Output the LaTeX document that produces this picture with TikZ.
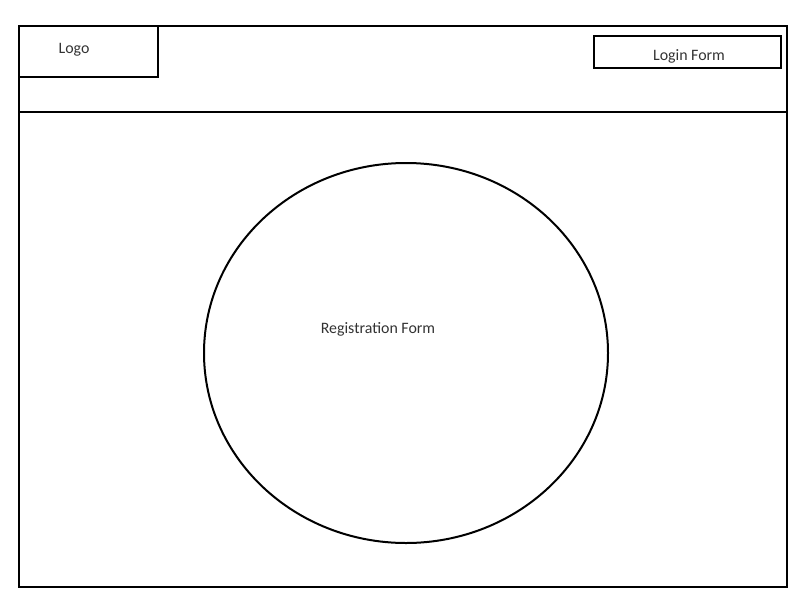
\documentclass[tikz,border=0pt]{standalone}
\usepackage{fontspec}
\setmainfont{Carlito}
\usetikzlibrary{shapes.geometric}
\definecolor{txt}{HTML}{333333}
\begin{document}
\begin{tikzpicture}[x=1pt,y=-1pt,
  frame/.style={draw=black,line width=2pt},
  label/.style={text=txt,font=\fontsize{15.9}{18}\selectfont,inner sep=0pt}]
\useasboundingbox (0,0) rectangle (800,600);
% page frame and header band
\draw[frame] (19,26) rectangle (787,587);
\draw[frame] (19,112) -- (787,112);
% logo box
\draw[frame] (19,26) rectangle (158,77);
\node[label] (logo) at (74,50) {Logo};
% login form box
\draw[frame] (594,36) rectangle (781,68);
\node[label] (login) at (689,56) {Login Form};
% registration area
\node[frame,ellipse,minimum width=404pt,minimum height=380pt,inner sep=0pt] (reg) at (406,353) {};
\node[label] (regtext) at (378,329) {Registration Form};
\end{tikzpicture}
\end{document}
